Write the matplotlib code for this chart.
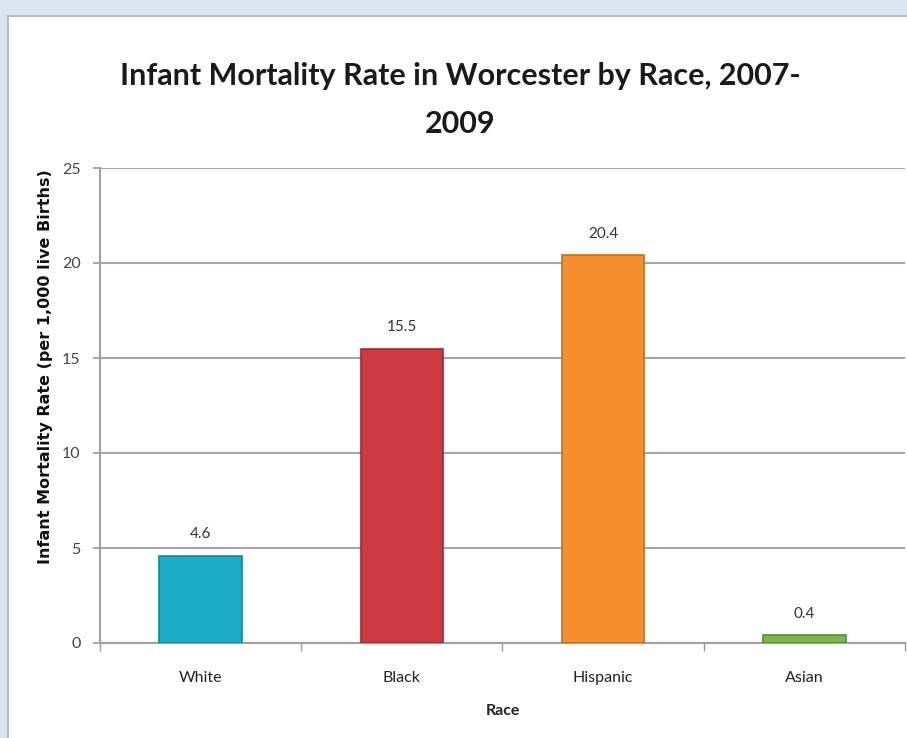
import matplotlib
matplotlib.use("Agg")
import matplotlib.pyplot as plt
from matplotlib.patches import Rectangle
import numpy as np

categories = ["White", "Black", "Hispanic", "Asian"]
values = [4.6, 15.5, 20.4, 0.4]
labels = ["4.6", "15.5", "20.4", "0.4"]
colors = ["#1badc8", "#cd3a44", "#f78f2e", "#7cb749"]
edges = ["#15879c", "#9e2a33", "#c46e1f", "#5a8c33"]
yticks = [0, 5, 10, 15, 20, 25]

plt.rcParams['font.family'] = ['Lato', 'DejaVu Sans']
W, H = 907, 738
fig = plt.figure(figsize=(W/100, H/100), dpi=100)
fig.patch.set_facecolor("#dbe5f1")
# white panel
fig.patches.append(Rectangle((8/W, -0.1), 1.1, 1 - 16/H + 0.1, transform=fig.transFigure,
                             facecolor="white", edgecolor="#b8bcc2", linewidth=1.5, zorder=-1))

ax = fig.add_axes([100/W, 1 - 643/H, 805/W, (643 - 168)/H])
ax.set_zorder(2)
ax.set_facecolor("none")
x = np.arange(len(categories))
ax.bar(x, values, width=0.41, color=colors, edgecolor=edges, linewidth=1.2, zorder=3)
for xi, v, lab in zip(x, values, labels):
    ax.text(xi, v + 0.75, lab, ha="center", va="bottom", fontsize=11, color="#333333")

ax.set_xlim(-0.5, len(categories) - 0.5)
ax.set_ylim(0, 25)
ax.set_yticks(yticks)
ax.set_yticklabels([str(t) for t in yticks], fontsize=11.5, color="#444444")
ax.set_xticks(x)
ax.set_xticklabels(categories, fontsize=11.5, color="#222222")
ax.tick_params(axis="x", length=0, pad=20)
ax.set_xticks(np.arange(-0.5, len(categories), 1.0), minor=True)
ax.tick_params(axis="x", which="minor", length=6, color="#999999", width=1)
ax.tick_params(axis="y", length=5, color="#999999", width=1.2, pad=9)
ax.yaxis.grid(True, color="#a6a6a6", linewidth=1.5, zorder=0)
ax.set_axisbelow(True)
for s in ["top", "right"]:
    ax.spines[s].set_visible(False)
for s in ["left", "bottom"]:
    ax.spines[s].set_color("#a0a0a0")
    ax.spines[s].set_linewidth(1.5)

ax.set_xlabel("Race", fontsize=11.5, fontweight="bold", labelpad=14, color="#222222")
fig.text(46/W, 1 - 367/H, "Infant Mortality Rate (per 1,000 live Births)",
         rotation=90, ha="center", va="center", fontsize=11.5, fontweight="bold",
         family=["DejaVu Sans"], color="#111111")
fig.text(460/W, 1 - 100/H, "Infant Mortality Rate in Worcester by Race, 2007-\n2009",
         ha="center", va="center", fontsize=22, fontweight="bold", color="#1a1a1a",
         linespacing=1.85)

fig.savefig("out.png", dpi=100, facecolor=fig.get_facecolor())
